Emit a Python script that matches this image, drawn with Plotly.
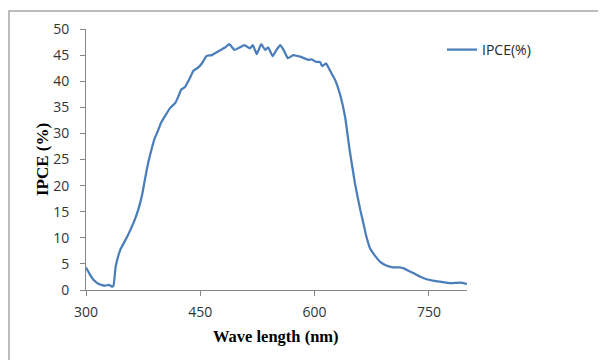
import plotly.graph_objects as go

wavelength = [300, 305, 310, 315, 321, 326, 330, 334, 336, 339, 345, 354, 363, 369, 374, 378,
              382, 387, 390, 393, 399, 404, 410, 417, 421, 425, 430, 436, 441, 447, 452, 458,
              465, 471, 478, 483, 488, 495, 502, 508, 515, 519, 524, 530, 535, 539, 545, 550,
              555, 560, 565, 572, 581, 592, 596, 602, 607, 610, 615, 620, 627, 633, 640, 646,
              653, 660, 664, 668, 673, 677, 686, 694, 703, 712, 717, 723, 730, 738, 747, 755,
              765, 778, 785, 791, 800]
ipce = [4.3, 3.0, 1.9, 1.3, 0.95, 0.85, 1.0, 0.65, 0.8, 4.5, 7.7, 10.2, 13.1, 15.6, 18.5, 21.7,
        24.6, 27.5, 29.0, 30.0, 32.2, 33.4, 34.8, 35.8, 37.0, 38.4, 38.9, 40.5, 42.0, 42.6, 43.4, 44.8,
        45.0, 45.5, 46.1, 46.5, 47.1, 46.0, 46.5, 46.9, 46.3, 46.9, 45.2, 47.1, 46.0, 46.5, 44.8, 46.0,
        46.9, 45.8, 44.4, 45.0, 44.7, 44.1, 44.2, 43.7, 43.7, 42.9, 43.4, 42.1, 40.2, 37.7, 33.2, 26.8,
        20.4, 15.3, 12.8, 10.2, 7.9, 7.0, 5.4, 4.7, 4.35, 4.35, 4.15, 3.7, 3.2, 2.6, 2.05, 1.8,
        1.6, 1.3, 1.35, 1.4, 1.15]

x_ticks = [300, 450, 600, 750]
y_ticks = [0, 5, 10, 15, 20, 25, 30, 35, 40, 45, 50]
x_title = "Wave length (nm)"
y_title = "IPCE (%)"

fig = go.Figure()
fig.add_trace(go.Scatter(x=wavelength, y=ipce, mode="lines", name="IPCE(%)",
                         line=dict(color="#4a7ebb", width=2.25, shape="spline", smoothing=0.4)))

# page body has an 8px margin: figure origin sits at (8, 8) in the window
OFF = 8
W, H = 606 - OFF, 360 - OFF
L, T = 86 - OFF, 29 - OFF
pw, ph = 381, 261
R, B = W - L - pw, H - T - ph

def px(x):
    return (x - OFF - L) / pw

def py(y):
    return (T + ph - (y - OFF)) / ph

fig.add_shape(type="rect", xref="paper", yref="paper",
              x0=px(9), x1=px(640), y0=py(400), y1=py(11),
              line=dict(color="#a6a6a6", width=1.5), fillcolor="rgba(0,0,0,0)", layer="below")

tickfont = dict(family="Open Sans, sans-serif", size=14, color="#333333")

fig.add_annotation(text="<b>%s</b>" % x_title, xref="paper", yref="paper",
                   x=px(276), y=py(336), xanchor="center", yanchor="middle", showarrow=False,
                   font=dict(family="Liberation Serif, serif", size=16.5, color="#000000"))
fig.add_annotation(text="<b>%s</b>" % y_title, xref="paper", yref="paper",
                   x=px(42), y=py(160), xanchor="center", yanchor="middle", showarrow=False,
                   textangle=-90,
                   font=dict(family="Liberation Serif, serif", size=17, color="#000000"))

fig.update_layout(
    width=W, height=H,
    margin=dict(l=L, r=R, t=T, b=B),
    paper_bgcolor="white", plot_bgcolor="white",
    showlegend=True,
    legend=dict(x=px(442), y=py(50), xanchor="left", yanchor="middle",
                font=dict(family="Open Sans, sans-serif", size=14, color="#262626"),
                bgcolor="rgba(0,0,0,0)"),
    xaxis=dict(range=[300, 800], tickvals=x_ticks, ticks="outside", ticklen=5,
               tickcolor="#868686", showline=True, linecolor="#868686", linewidth=1,
               showgrid=False, zeroline=False, tickfont=tickfont, ticklabelstandoff=4,
               automargin=False),
    yaxis=dict(range=[0, 50], tickvals=y_ticks, ticks="outside", ticklen=5,
               tickcolor="#868686", showline=True, linecolor="#868686", linewidth=1,
               showgrid=False, zeroline=False, tickfont=tickfont, ticklabelstandoff=8,
               automargin=False),
)

fig.write_html("out.html")
